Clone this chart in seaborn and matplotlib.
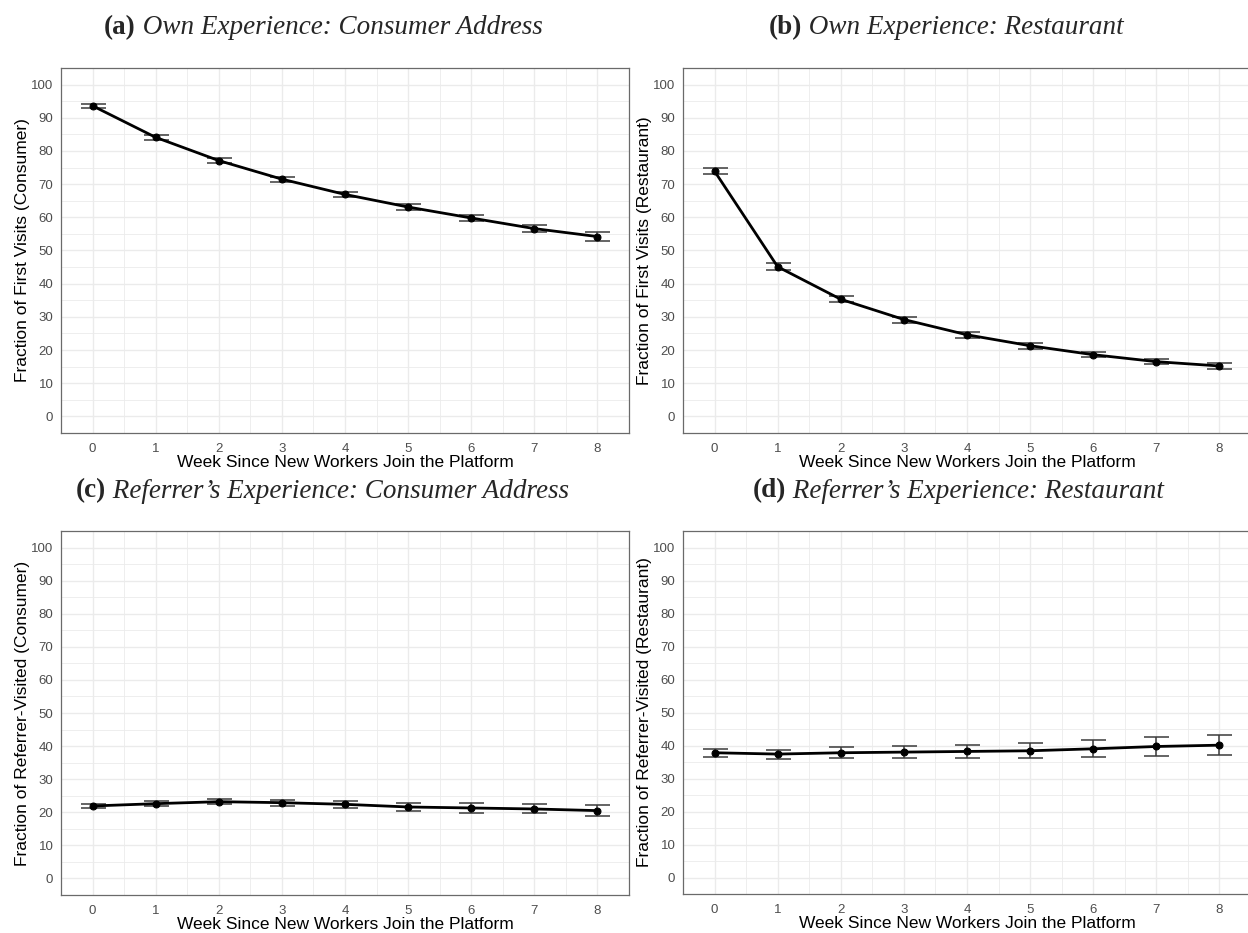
import numpy as np
import matplotlib
matplotlib.use('Agg')
import matplotlib.pyplot as plt
import seaborn as sns

# weeks since new workers join
weeks = [0, 1, 2, 3, 4, 5, 6, 7, 8]

# (a) own experience, consumer address
own_consumer = [93.6, 84.1, 77.1, 71.5, 66.9, 63.1, 59.8, 56.6, 54.2]
own_consumer_err = [0.55, 0.7, 0.7, 0.75, 0.8, 0.85, 0.85, 1.0, 1.25]

# (b) own experience, restaurant
own_restaurant = [73.9, 45.1, 35.3, 29.2, 24.6, 21.3, 18.6, 16.5, 15.2]
own_restaurant_err = [0.9, 1.0, 0.9, 0.9, 0.85, 0.9, 0.8, 0.75, 0.9]

# (c) referrer's experience, consumer address
ref_consumer = [21.9, 22.6, 23.2, 22.9, 22.4, 21.6, 21.3, 21.0, 20.5]
ref_consumer_err = [0.7, 0.7, 0.85, 0.95, 1.0, 1.15, 1.4, 1.35, 1.55]

# (d) referrer's experience, restaurant
ref_restaurant = [37.8, 37.4, 37.8, 38.0, 38.2, 38.4, 39.0, 39.7, 40.1]
ref_restaurant_err = [1.25, 1.35, 1.65, 1.75, 2.1, 2.25, 2.55, 2.8, 3.1]

panel_tags = ['(a)', '(b)', '(c)', '(d)']
panel_titles = [' Own Experience: Consumer Address',
                ' Own Experience: Restaurant',
                ' Referrer\u2019s Experience: Consumer Address',
                ' Referrer\u2019s Experience: Restaurant']
y_labels = ['Fraction of First Visits (Consumer)',
            'Fraction of First Visits (Restaurant)',
            'Fraction of Referrer-Visited (Consumer)',
            'Fraction of Referrer-Visited (Restaurant)']
x_label = 'Week Since New Workers Join the Platform'

series = [(own_consumer, own_consumer_err),
          (own_restaurant, own_restaurant_err),
          (ref_consumer, ref_consumer_err),
          (ref_restaurant, ref_restaurant_err)]

sns.set_style('white')
plt.rcParams['font.family'] = ['Liberation Sans', 'DejaVu Sans']

W, H = 1248, 933
fig = plt.figure(figsize=(W / 100, H / 100), dpi=100)

# axes boxes in pixels: left, top, width, height
boxes = [(61, 68, 568, 365),
         (683, 68, 568, 365),
         (61, 531, 568, 364),
         (683, 531, 568, 363)]
# title centres in pixels
title_pos = [(323, 28), (946, 28), (322, 491), (958, 491)]

for i, (vals, errs) in enumerate(series):
    l, t, w, h = boxes[i]
    ax = fig.add_axes([l / W, 1 - (t + h) / H, w / W, h / H])
    ax.set_xlim(-0.5, 8.5)
    ax.set_ylim(-5, 105)
    ax.set_xticks(weeks)
    ax.set_yticks(range(0, 101, 10))
    ax.set_xticks(np.arange(-0.5, 9, 1), minor=True)
    ax.set_yticks(range(-5, 106, 10), minor=True)
    ax.grid(True, which='major', color='#EBEBEB', linewidth=1.0)
    ax.grid(True, which='minor', color='#EBEBEB', linewidth=0.6)
    ax.set_axisbelow(True)
    for sp in ax.spines.values():
        sp.set_color('#6a6a6a')
        sp.set_linewidth(0.9)
    ax.tick_params(which='major', length=3, width=0.8, color='#555555',
                   labelcolor='#4D4D4D', labelsize=9.5, pad=2.5)
    ax.tick_params(axis='x', which='major', pad=4)
    ax.tick_params(which='minor', length=0)

    ax.errorbar(weeks, vals, yerr=errs, fmt='none', ecolor='#3a3a3a',
                elinewidth=1.1, capsize=9, capthick=1.1, zorder=2)
    sns.lineplot(x=weeks, y=vals, ax=ax, color='black', linewidth=2.0,
                 marker='o', markersize=5, markeredgecolor='black', zorder=3)

    ax.set_xlabel(x_label, fontsize=12.5, color='black', labelpad=0.5)
    ax.set_ylabel(y_labels[i], fontsize=12.5, color='black', labelpad=1)

    # title: bold tag + italic text, centred as one block
    cx, cy = title_pos[i]
    t1 = fig.text(0, 1 - cy / H, panel_tags[i], fontsize=19.5, weight='bold',
                  family='Liberation Serif', va='center', ha='left')
    t2 = fig.text(0, 1 - cy / H, panel_titles[i], fontsize=19.5, style='italic',
                  family='Liberation Serif', va='center', ha='left')
    r = fig.canvas.get_renderer()
    w1 = t1.get_window_extent(r).width
    w2 = t2.get_window_extent(r).width
    x0 = cx - (w1 + w2) / 2
    t1.set_x(x0 / W)
    t2.set_x((x0 + w1) / W)

fig.savefig('out.png', dpi=100)
